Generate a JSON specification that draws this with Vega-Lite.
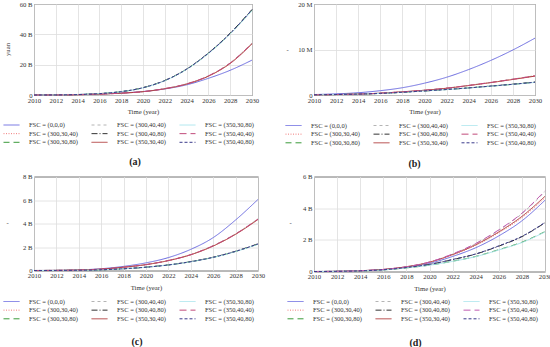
{
"$schema":"https://vega.github.io/schema/vega-lite/v6.json",
"padding":{"left":2,"top":0,"right":0,"bottom":0},
"config":{
 "font":"Liberation Serif",
 "view":{"stroke":"#444444","strokeWidth":1},
 "axis":{"labelFont":"Liberation Serif","labelFontSize":6.7,"labelColor":"#333333","titleFont":"Liberation Serif","titleFontSize":6.7,"titleFontWeight":"normal","titleColor":"#333333","gridColor":"#dddddd","gridWidth":0.8,"ticks":false,"domain":false,"labelFlush":false,"labelOverlap":false,"labelPadding":2},
 "axisX":{"titlePadding":5},
 "legend":{"orient":"none","columns":3,"symbolType":"stroke","symbolSize":256,"symbolStrokeWidth":1,"labelFont":"Liberation Serif","labelFontSize":6.5,"labelColor":"#333333","clipHeight":8,"rowPadding":0.65,"columnPadding":13,"labelOffset":9,"padding":0},
 "title":{"orient":"bottom","anchor":"middle","frame":"group","font":"Liberation Serif","fontSize":10,"fontWeight":"bold","color":"#222222","offset":10}
},
"resolve":{"scale":{"color":"independent","strokeDash":"independent"},"legend":{"color":"independent","strokeDash":"independent"}},
"datasets":{
"a":[
{"s":"0,0,0","t":2010,"v":0},{"s":"0,0,0","t":2012,"v":0.1},{"s":"0,0,0","t":2014,"v":0.3},{"s":"0,0,0","t":2016,"v":0.7},{"s":"0,0,0","t":2018,"v":1.3},{"s":"0,0,0","t":2020,"v":2.3},{"s":"0,0,0","t":2022,"v":4.0},{"s":"0,0,0","t":2024,"v":6.7},{"s":"0,0,0","t":2026,"v":11},{"s":"0,0,0","t":2028,"v":16.3},{"s":"0,0,0","t":2030,"v":23},
{"s":"300,30,40","t":2010,"v":0},{"s":"300,30,40","t":2012,"v":0.05},{"s":"300,30,40","t":2014,"v":0.2},{"s":"300,30,40","t":2016,"v":0.6},{"s":"300,30,40","t":2018,"v":1.2},{"s":"300,30,40","t":2020,"v":2.2},{"s":"300,30,40","t":2022,"v":4.2},{"s":"300,30,40","t":2024,"v":7.3},{"s":"300,30,40","t":2026,"v":12.5},{"s":"300,30,40","t":2028,"v":21},{"s":"300,30,40","t":2030,"v":34},
{"s":"300,30,80","t":2010,"v":0},{"s":"300,30,80","t":2012,"v":0.05},{"s":"300,30,80","t":2014,"v":0.3},{"s":"300,30,80","t":2016,"v":0.9},{"s":"300,30,80","t":2018,"v":2.2},{"s":"300,30,80","t":2020,"v":4.8},{"s":"300,30,80","t":2022,"v":9.5},{"s":"300,30,80","t":2024,"v":17},{"s":"300,30,80","t":2026,"v":27.5},{"s":"300,30,80","t":2028,"v":40.5},{"s":"300,30,80","t":2030,"v":56},
{"s":"300,40,40","t":2010,"v":0},{"s":"300,40,40","t":2012,"v":0.05},{"s":"300,40,40","t":2014,"v":0.2},{"s":"300,40,40","t":2016,"v":0.6},{"s":"300,40,40","t":2018,"v":1.2},{"s":"300,40,40","t":2020,"v":2.2},{"s":"300,40,40","t":2022,"v":4.2},{"s":"300,40,40","t":2024,"v":7.4},{"s":"300,40,40","t":2026,"v":12.6},{"s":"300,40,40","t":2028,"v":21.2},{"s":"300,40,40","t":2030,"v":34.3},
{"s":"300,40,80","t":2010,"v":0},{"s":"300,40,80","t":2012,"v":0.05},{"s":"300,40,80","t":2014,"v":0.3},{"s":"300,40,80","t":2016,"v":0.9},{"s":"300,40,80","t":2018,"v":2.2},{"s":"300,40,80","t":2020,"v":4.8},{"s":"300,40,80","t":2022,"v":9.6},{"s":"300,40,80","t":2024,"v":17.1},{"s":"300,40,80","t":2026,"v":27.7},{"s":"300,40,80","t":2028,"v":40.8},{"s":"300,40,80","t":2030,"v":56.4},
{"s":"350,30,40","t":2010,"v":0},{"s":"350,30,40","t":2012,"v":0.05},{"s":"350,30,40","t":2014,"v":0.2},{"s":"350,30,40","t":2016,"v":0.6},{"s":"350,30,40","t":2018,"v":1.2},{"s":"350,30,40","t":2020,"v":2.2},{"s":"350,30,40","t":2022,"v":4.1},{"s":"350,30,40","t":2024,"v":7.2},{"s":"350,30,40","t":2026,"v":12.4},{"s":"350,30,40","t":2028,"v":20.8},{"s":"350,30,40","t":2030,"v":33.7},
{"s":"350,30,80","t":2010,"v":0},{"s":"350,30,80","t":2012,"v":0.05},{"s":"350,30,80","t":2014,"v":0.3},{"s":"350,30,80","t":2016,"v":0.9},{"s":"350,30,80","t":2018,"v":2.2},{"s":"350,30,80","t":2020,"v":4.7},{"s":"350,30,80","t":2022,"v":9.4},{"s":"350,30,80","t":2024,"v":16.9},{"s":"350,30,80","t":2026,"v":27.3},{"s":"350,30,80","t":2028,"v":40.2},{"s":"350,30,80","t":2030,"v":55.6},
{"s":"350,40,40","t":2010,"v":0},{"s":"350,40,40","t":2012,"v":0.05},{"s":"350,40,40","t":2014,"v":0.2},{"s":"350,40,40","t":2016,"v":0.6},{"s":"350,40,40","t":2018,"v":1.2},{"s":"350,40,40","t":2020,"v":2.2},{"s":"350,40,40","t":2022,"v":4.2},{"s":"350,40,40","t":2024,"v":7.3},{"s":"350,40,40","t":2026,"v":12.6},{"s":"350,40,40","t":2028,"v":21.1},{"s":"350,40,40","t":2030,"v":34.1},
{"s":"350,40,80","t":2010,"v":0},{"s":"350,40,80","t":2012,"v":0.05},{"s":"350,40,80","t":2014,"v":0.3},{"s":"350,40,80","t":2016,"v":0.9},{"s":"350,40,80","t":2018,"v":2.2},{"s":"350,40,80","t":2020,"v":4.8},{"s":"350,40,80","t":2022,"v":9.5},{"s":"350,40,80","t":2024,"v":17},{"s":"350,40,80","t":2026,"v":27.6},{"s":"350,40,80","t":2028,"v":40.6},{"s":"350,40,80","t":2030,"v":56.2}
],
"b":[
{"s":"0,0,0","t":2010,"v":0.1},{"s":"0,0,0","t":2012,"v":0.25},{"s":"0,0,0","t":2014,"v":0.5},{"s":"0,0,0","t":2016,"v":0.95},{"s":"0,0,0","t":2018,"v":1.6},{"s":"0,0,0","t":2020,"v":2.6},{"s":"0,0,0","t":2022,"v":3.9},{"s":"0,0,0","t":2024,"v":5.6},{"s":"0,0,0","t":2026,"v":7.6},{"s":"0,0,0","t":2028,"v":9.9},{"s":"0,0,0","t":2030,"v":12.5},
{"s":"300,30,40","t":2010,"v":0.05},{"s":"300,30,40","t":2012,"v":0.1},{"s":"300,30,40","t":2014,"v":0.2},{"s":"300,30,40","t":2016,"v":0.4},{"s":"300,30,40","t":2018,"v":0.7},{"s":"300,30,40","t":2020,"v":1.05},{"s":"300,30,40","t":2022,"v":1.5},{"s":"300,30,40","t":2024,"v":2.1},{"s":"300,30,40","t":2026,"v":2.75},{"s":"300,30,40","t":2028,"v":3.45},{"s":"300,30,40","t":2030,"v":4.2},
{"s":"300,30,80","t":2010,"v":0.05},{"s":"300,30,80","t":2012,"v":0.1},{"s":"300,30,80","t":2014,"v":0.2},{"s":"300,30,80","t":2016,"v":0.35},{"s":"300,30,80","t":2018,"v":0.6},{"s":"300,30,80","t":2020,"v":0.9},{"s":"300,30,80","t":2022,"v":1.2},{"s":"300,30,80","t":2024,"v":1.55},{"s":"300,30,80","t":2026,"v":1.95},{"s":"300,30,80","t":2028,"v":2.35},{"s":"300,30,80","t":2030,"v":2.8},
{"s":"300,40,40","t":2010,"v":0.05},{"s":"300,40,40","t":2012,"v":0.1},{"s":"300,40,40","t":2014,"v":0.2},{"s":"300,40,40","t":2016,"v":0.4},{"s":"300,40,40","t":2018,"v":0.7},{"s":"300,40,40","t":2020,"v":1.05},{"s":"300,40,40","t":2022,"v":1.52},{"s":"300,40,40","t":2024,"v":2.12},{"s":"300,40,40","t":2026,"v":2.78},{"s":"300,40,40","t":2028,"v":3.5},{"s":"300,40,40","t":2030,"v":4.25},
{"s":"300,40,80","t":2010,"v":0.05},{"s":"300,40,80","t":2012,"v":0.1},{"s":"300,40,80","t":2014,"v":0.2},{"s":"300,40,80","t":2016,"v":0.35},{"s":"300,40,80","t":2018,"v":0.6},{"s":"300,40,80","t":2020,"v":0.9},{"s":"300,40,80","t":2022,"v":1.22},{"s":"300,40,80","t":2024,"v":1.57},{"s":"300,40,80","t":2026,"v":1.97},{"s":"300,40,80","t":2028,"v":2.38},{"s":"300,40,80","t":2030,"v":2.83},
{"s":"350,30,40","t":2010,"v":0.05},{"s":"350,30,40","t":2012,"v":0.1},{"s":"350,30,40","t":2014,"v":0.2},{"s":"350,30,40","t":2016,"v":0.4},{"s":"350,30,40","t":2018,"v":0.7},{"s":"350,30,40","t":2020,"v":1.04},{"s":"350,30,40","t":2022,"v":1.48},{"s":"350,30,40","t":2024,"v":2.08},{"s":"350,30,40","t":2026,"v":2.72},{"s":"350,30,40","t":2028,"v":3.42},{"s":"350,30,40","t":2030,"v":4.15},
{"s":"350,30,80","t":2010,"v":0.05},{"s":"350,30,80","t":2012,"v":0.1},{"s":"350,30,80","t":2014,"v":0.2},{"s":"350,30,80","t":2016,"v":0.35},{"s":"350,30,80","t":2018,"v":0.6},{"s":"350,30,80","t":2020,"v":0.89},{"s":"350,30,80","t":2022,"v":1.19},{"s":"350,30,80","t":2024,"v":1.54},{"s":"350,30,80","t":2026,"v":1.93},{"s":"350,30,80","t":2028,"v":2.33},{"s":"350,30,80","t":2030,"v":2.77},
{"s":"350,40,40","t":2010,"v":0.05},{"s":"350,40,40","t":2012,"v":0.1},{"s":"350,40,40","t":2014,"v":0.2},{"s":"350,40,40","t":2016,"v":0.4},{"s":"350,40,40","t":2018,"v":0.7},{"s":"350,40,40","t":2020,"v":1.05},{"s":"350,40,40","t":2022,"v":1.5},{"s":"350,40,40","t":2024,"v":2.1},{"s":"350,40,40","t":2026,"v":2.76},{"s":"350,40,40","t":2028,"v":3.47},{"s":"350,40,40","t":2030,"v":4.22},
{"s":"350,40,80","t":2010,"v":0.05},{"s":"350,40,80","t":2012,"v":0.1},{"s":"350,40,80","t":2014,"v":0.2},{"s":"350,40,80","t":2016,"v":0.35},{"s":"350,40,80","t":2018,"v":0.6},{"s":"350,40,80","t":2020,"v":0.9},{"s":"350,40,80","t":2022,"v":1.21},{"s":"350,40,80","t":2024,"v":1.56},{"s":"350,40,80","t":2026,"v":1.96},{"s":"350,40,80","t":2028,"v":2.36},{"s":"350,40,80","t":2030,"v":2.81}
],
"c":[
{"s":"0,0,0","t":2010,"v":0},{"s":"0,0,0","t":2012,"v":0.01},{"s":"0,0,0","t":2014,"v":0.05},{"s":"0,0,0","t":2016,"v":0.15},{"s":"0,0,0","t":2018,"v":0.35},{"s":"0,0,0","t":2020,"v":0.65},{"s":"0,0,0","t":2022,"v":1.1},{"s":"0,0,0","t":2024,"v":1.8},{"s":"0,0,0","t":2026,"v":2.8},{"s":"0,0,0","t":2028,"v":4.3},{"s":"0,0,0","t":2030,"v":6.05},
{"s":"300,30,40","t":2010,"v":0},{"s":"300,30,40","t":2012,"v":0.01},{"s":"300,30,40","t":2014,"v":0.04},{"s":"300,30,40","t":2016,"v":0.12},{"s":"300,30,40","t":2018,"v":0.28},{"s":"300,30,40","t":2020,"v":0.5},{"s":"300,30,40","t":2022,"v":0.85},{"s":"300,30,40","t":2024,"v":1.35},{"s":"300,30,40","t":2026,"v":2.1},{"s":"300,30,40","t":2028,"v":3.1},{"s":"300,30,40","t":2030,"v":4.37},
{"s":"300,30,80","t":2010,"v":0},{"s":"300,30,80","t":2012,"v":0.005},{"s":"300,30,80","t":2014,"v":0.02},{"s":"300,30,80","t":2016,"v":0.06},{"s":"300,30,80","t":2018,"v":0.15},{"s":"300,30,80","t":2020,"v":0.28},{"s":"300,30,80","t":2022,"v":0.47},{"s":"300,30,80","t":2024,"v":0.75},{"s":"300,30,80","t":2026,"v":1.12},{"s":"300,30,80","t":2028,"v":1.62},{"s":"300,30,80","t":2030,"v":2.25},
{"s":"300,40,40","t":2010,"v":0},{"s":"300,40,40","t":2012,"v":0.01},{"s":"300,40,40","t":2014,"v":0.04},{"s":"300,40,40","t":2016,"v":0.12},{"s":"300,40,40","t":2018,"v":0.28},{"s":"300,40,40","t":2020,"v":0.5},{"s":"300,40,40","t":2022,"v":0.86},{"s":"300,40,40","t":2024,"v":1.36},{"s":"300,40,40","t":2026,"v":2.12},{"s":"300,40,40","t":2028,"v":3.12},{"s":"300,40,40","t":2030,"v":4.4},
{"s":"300,40,80","t":2010,"v":0},{"s":"300,40,80","t":2012,"v":0.005},{"s":"300,40,80","t":2014,"v":0.02},{"s":"300,40,80","t":2016,"v":0.06},{"s":"300,40,80","t":2018,"v":0.15},{"s":"300,40,80","t":2020,"v":0.28},{"s":"300,40,80","t":2022,"v":0.48},{"s":"300,40,80","t":2024,"v":0.76},{"s":"300,40,80","t":2026,"v":1.13},{"s":"300,40,80","t":2028,"v":1.64},{"s":"300,40,80","t":2030,"v":2.27},
{"s":"350,30,40","t":2010,"v":0},{"s":"350,30,40","t":2012,"v":0.01},{"s":"350,30,40","t":2014,"v":0.04},{"s":"350,30,40","t":2016,"v":0.12},{"s":"350,30,40","t":2018,"v":0.28},{"s":"350,30,40","t":2020,"v":0.5},{"s":"350,30,40","t":2022,"v":0.84},{"s":"350,30,40","t":2024,"v":1.34},{"s":"350,30,40","t":2026,"v":2.08},{"s":"350,30,40","t":2028,"v":3.08},{"s":"350,30,40","t":2030,"v":4.34},
{"s":"350,30,80","t":2010,"v":0},{"s":"350,30,80","t":2012,"v":0.005},{"s":"350,30,80","t":2014,"v":0.02},{"s":"350,30,80","t":2016,"v":0.06},{"s":"350,30,80","t":2018,"v":0.15},{"s":"350,30,80","t":2020,"v":0.28},{"s":"350,30,80","t":2022,"v":0.47},{"s":"350,30,80","t":2024,"v":0.74},{"s":"350,30,80","t":2026,"v":1.11},{"s":"350,30,80","t":2028,"v":1.61},{"s":"350,30,80","t":2030,"v":2.23},
{"s":"350,40,40","t":2010,"v":0},{"s":"350,40,40","t":2012,"v":0.01},{"s":"350,40,40","t":2014,"v":0.04},{"s":"350,40,40","t":2016,"v":0.12},{"s":"350,40,40","t":2018,"v":0.28},{"s":"350,40,40","t":2020,"v":0.5},{"s":"350,40,40","t":2022,"v":0.85},{"s":"350,40,40","t":2024,"v":1.35},{"s":"350,40,40","t":2026,"v":2.11},{"s":"350,40,40","t":2028,"v":3.11},{"s":"350,40,40","t":2030,"v":4.38},
{"s":"350,40,80","t":2010,"v":0},{"s":"350,40,80","t":2012,"v":0.005},{"s":"350,40,80","t":2014,"v":0.02},{"s":"350,40,80","t":2016,"v":0.06},{"s":"350,40,80","t":2018,"v":0.15},{"s":"350,40,80","t":2020,"v":0.28},{"s":"350,40,80","t":2022,"v":0.47},{"s":"350,40,80","t":2024,"v":0.75},{"s":"350,40,80","t":2026,"v":1.12},{"s":"350,40,80","t":2028,"v":1.63},{"s":"350,40,80","t":2030,"v":2.26}
],
"d":[
{"s":"0,0,0","t":2010,"v":0},{"s":"0,0,0","t":2012,"v":0.01},{"s":"0,0,0","t":2014,"v":0.05},{"s":"0,0,0","t":2016,"v":0.12},{"s":"0,0,0","t":2018,"v":0.28},{"s":"0,0,0","t":2020,"v":0.52},{"s":"0,0,0","t":2022,"v":0.95},{"s":"0,0,0","t":2024,"v":1.5},{"s":"0,0,0","t":2026,"v":2.25},{"s":"0,0,0","t":2028,"v":3.2},{"s":"0,0,0","t":2030,"v":4.5},
{"s":"300,30,40","t":2010,"v":0},{"s":"300,30,40","t":2012,"v":0.01},{"s":"300,30,40","t":2014,"v":0.05},{"s":"300,30,40","t":2016,"v":0.13},{"s":"300,30,40","t":2018,"v":0.3},{"s":"300,30,40","t":2020,"v":0.58},{"s":"300,30,40","t":2022,"v":1.05},{"s":"300,30,40","t":2024,"v":1.65},{"s":"300,30,40","t":2026,"v":2.45},{"s":"300,30,40","t":2028,"v":3.4},{"s":"300,30,40","t":2030,"v":4.65},
{"s":"300,30,80","t":2010,"v":0},{"s":"300,30,80","t":2012,"v":0.01},{"s":"300,30,80","t":2014,"v":0.04},{"s":"300,30,80","t":2016,"v":0.1},{"s":"300,30,80","t":2018,"v":0.23},{"s":"300,30,80","t":2020,"v":0.4},{"s":"300,30,80","t":2022,"v":0.65},{"s":"300,30,80","t":2024,"v":0.95},{"s":"300,30,80","t":2026,"v":1.38},{"s":"300,30,80","t":2028,"v":1.85},{"s":"300,30,80","t":2030,"v":2.52},
{"s":"300,40,40","t":2010,"v":0},{"s":"300,40,40","t":2012,"v":0.01},{"s":"300,40,40","t":2014,"v":0.05},{"s":"300,40,40","t":2016,"v":0.13},{"s":"300,40,40","t":2018,"v":0.3},{"s":"300,40,40","t":2020,"v":0.6},{"s":"300,40,40","t":2022,"v":1.1},{"s":"300,40,40","t":2024,"v":1.75},{"s":"300,40,40","t":2026,"v":2.6},{"s":"300,40,40","t":2028,"v":3.65},{"s":"300,40,40","t":2030,"v":5.05},
{"s":"300,40,80","t":2010,"v":0},{"s":"300,40,80","t":2012,"v":0.01},{"s":"300,40,80","t":2014,"v":0.04},{"s":"300,40,80","t":2016,"v":0.11},{"s":"300,40,80","t":2018,"v":0.25},{"s":"300,40,80","t":2020,"v":0.45},{"s":"300,40,80","t":2022,"v":0.75},{"s":"300,40,80","t":2024,"v":1.1},{"s":"300,40,80","t":2026,"v":1.6},{"s":"300,40,80","t":2028,"v":2.2},{"s":"300,40,80","t":2030,"v":3.08},
{"s":"350,30,40","t":2010,"v":0},{"s":"350,30,40","t":2012,"v":0.01},{"s":"350,30,40","t":2014,"v":0.05},{"s":"350,30,40","t":2016,"v":0.13},{"s":"350,30,40","t":2018,"v":0.3},{"s":"350,30,40","t":2020,"v":0.59},{"s":"350,30,40","t":2022,"v":1.07},{"s":"350,30,40","t":2024,"v":1.69},{"s":"350,30,40","t":2026,"v":2.5},{"s":"350,30,40","t":2028,"v":3.48},{"s":"350,30,40","t":2030,"v":4.75},
{"s":"350,30,80","t":2010,"v":0},{"s":"350,30,80","t":2012,"v":0.01},{"s":"350,30,80","t":2014,"v":0.04},{"s":"350,30,80","t":2016,"v":0.1},{"s":"350,30,80","t":2018,"v":0.23},{"s":"350,30,80","t":2020,"v":0.4},{"s":"350,30,80","t":2022,"v":0.64},{"s":"350,30,80","t":2024,"v":0.94},{"s":"350,30,80","t":2026,"v":1.36},{"s":"350,30,80","t":2028,"v":1.83},{"s":"350,30,80","t":2030,"v":2.5},
{"s":"350,40,40","t":2010,"v":0},{"s":"350,40,40","t":2012,"v":0.01},{"s":"350,40,40","t":2014,"v":0.05},{"s":"350,40,40","t":2016,"v":0.13},{"s":"350,40,40","t":2018,"v":0.3},{"s":"350,40,40","t":2020,"v":0.6},{"s":"350,40,40","t":2022,"v":1.11},{"s":"350,40,40","t":2024,"v":1.77},{"s":"350,40,40","t":2026,"v":2.63},{"s":"350,40,40","t":2028,"v":3.68},{"s":"350,40,40","t":2030,"v":5.1},
{"s":"350,40,80","t":2010,"v":0},{"s":"350,40,80","t":2012,"v":0.01},{"s":"350,40,80","t":2014,"v":0.04},{"s":"350,40,80","t":2016,"v":0.11},{"s":"350,40,80","t":2018,"v":0.25},{"s":"350,40,80","t":2020,"v":0.45},{"s":"350,40,80","t":2022,"v":0.76},{"s":"350,40,80","t":2024,"v":1.11},{"s":"350,40,80","t":2026,"v":1.62},{"s":"350,40,80","t":2028,"v":2.22},{"s":"350,40,80","t":2030,"v":3.1}
]
},
"columns":2,
"align":"each",
"bounds":"flush",
"spacing":{"row":81.5,"column":56},
"concat":[
{"width":218,"height":91,"data":{"name":"a"},"title":{"text":"(a)","dx":-8,"offset":10},
 "mark":{"type":"line","strokeWidth":1,"interpolate":"monotone"},
 "encoding":{
  "x":{"field":"t","type":"quantitative","scale":{"domain":[2010,2030],"nice":false},"axis":{"values":[2010,2012,2014,2016,2018,2020,2022,2024,2026,2028,2030],"format":"d","title":"Time (year)"}},
  "y":{"field":"v","type":"quantitative","scale":{"domain":[0,60],"nice":false},"axis":{"values":[0,20,40,60],"labelExpr":"datum.value == 0 ? '0' : datum.value + ' B'","title":"yuan","titleAngle":270,"titleX":-27,"titleY":45,"titleAlign":"center","titleBaseline":"middle"}},
  "color":{"field":"s","type":"nominal","scale":{"domain":["0,0,0","300,30,40","300,30,80","300,40,40","300,40,80","350,30,40","350,30,80","350,40,40","350,40,80"],"range":["#6b6be0","#f07a7a","#3a9a3a","#b4b4b4","#333333","#b03a3a","#a8e4ec","#c04a7a","#3a3a8a"]},"legend":{"title":null,"legendX":-31,"legendY":117,"labelExpr":"'FSC = (' + datum.label + ')'"}},
  "strokeDash":{"field":"s","type":"nominal","scale":{"domain":["0,0,0","300,30,40","300,30,80","300,40,40","300,40,80","350,30,40","350,30,80","350,40,40","350,40,80"],"range":[[1,0],[1,1.5],[6,4],[3,3],[6,2,1,2],[1,0],[1,0],[7,4],[3,2]]},"legend":{"title":null,"legendX":-31,"legendY":117,"labelExpr":"'FSC = (' + datum.label + ')'"}}
 }},
{"width":221,"height":91,"data":{"name":"b"},"title":{"text":"(b)","dx":-10,"offset":11},
 "mark":{"type":"line","strokeWidth":1,"interpolate":"monotone"},
 "encoding":{
  "x":{"field":"t","type":"quantitative","scale":{"domain":[2010,2030],"nice":false},"axis":{"values":[2010,2012,2014,2016,2018,2020,2022,2024,2026,2028,2030],"format":"d","title":"Time (year)"}},
  "y":{"field":"v","type":"quantitative","scale":{"domain":[0,20],"nice":false},"axis":{"values":[0,10,20],"labelExpr":"datum.value == 0 ? '0' : datum.value + ' M'","title":"-","titleAngle":0,"titleX":-27,"titleY":45,"titleAlign":"center","titleBaseline":"middle"}},
  "color":{"field":"s","type":"nominal","scale":{"domain":["0,0,0","300,30,40","300,30,80","300,40,40","300,40,80","350,30,40","350,30,80","350,40,40","350,40,80"],"range":["#6b6be0","#f07a7a","#3a9a3a","#b4b4b4","#333333","#b03a3a","#a8e4ec","#c04a7a","#3a3a8a"]},"legend":{"title":null,"legendX":-29,"legendY":117.5,"labelExpr":"'FSC = (' + datum.label + ')'"}},
  "strokeDash":{"field":"s","type":"nominal","scale":{"domain":["0,0,0","300,30,40","300,30,80","300,40,40","300,40,80","350,30,40","350,30,80","350,40,40","350,40,80"],"range":[[1,0],[1,1.5],[6,4],[3,3],[6,2,1,2],[1,0],[1,0],[7,4],[3,2]]},"legend":{"title":null,"legendX":-29,"legendY":117.5,"labelExpr":"'FSC = (' + datum.label + ')'"}}
 }},
{"width":224,"height":94,"data":{"name":"c"},"title":{"text":"(c)","dx":-9,"offset":13.5},
 "mark":{"type":"line","strokeWidth":1,"interpolate":"monotone"},
 "encoding":{
  "x":{"field":"t","type":"quantitative","scale":{"domain":[2010,2030],"nice":false},"axis":{"values":[2010,2012,2014,2016,2018,2020,2022,2024,2026,2028,2030],"format":"d","title":"Time (year)"}},
  "y":{"field":"v","type":"quantitative","scale":{"domain":[0,8],"nice":false},"axis":{"values":[0,2,4,6,8],"labelExpr":"datum.value == 0 ? '0' : datum.value + ' B'","title":"-","titleAngle":0,"titleX":-27,"titleY":46,"titleAlign":"center","titleBaseline":"middle"}},
  "color":{"field":"s","type":"nominal","scale":{"domain":["0,0,0","300,30,40","300,30,80","300,40,40","300,40,80","350,30,40","350,30,80","350,40,40","350,40,80"],"range":["#6b6be0","#f07a7a","#3a9a3a","#b4b4b4","#333333","#b03a3a","#a8e4ec","#c04a7a","#3a3a8a"]},"legend":{"title":null,"legendX":-31,"legendY":121,"labelExpr":"'FSC = (' + datum.label + ')'"}},
  "strokeDash":{"field":"s","type":"nominal","scale":{"domain":["0,0,0","300,30,40","300,30,80","300,40,40","300,40,80","350,30,40","350,30,80","350,40,40","350,40,80"],"range":[[1,0],[1,1.5],[6,4],[3,3],[6,2,1,2],[1,0],[1,0],[7,4],[3,2]]},"legend":{"title":null,"legendX":-31,"legendY":121,"labelExpr":"'FSC = (' + datum.label + ')'"}}
 }},
{"width":231,"height":95,"data":{"name":"d"},"title":{"text":"(d)","dx":-14,"offset":14.5},
 "mark":{"type":"line","strokeWidth":1,"interpolate":"monotone"},
 "encoding":{
  "x":{"field":"t","type":"quantitative","scale":{"domain":[2010,2030],"nice":false},"axis":{"values":[2010,2012,2014,2016,2018,2020,2022,2024,2026,2028,2030],"format":"d","title":"Time (year)"}},
  "y":{"field":"v","type":"quantitative","scale":{"domain":[0,6],"nice":false},"axis":{"values":[0,2,4,6],"labelExpr":"datum.value == 0 ? '0' : datum.value + ' B'","title":"-","titleAngle":0,"titleX":-24,"titleY":46,"titleAlign":"center","titleBaseline":"middle"}},
  "color":{"field":"s","type":"nominal","scale":{"domain":["0,0,0","300,30,40","300,30,80","300,40,40","300,40,80","350,30,40","350,30,80","350,40,40","350,40,80"],"range":["#6b6be0","#f07a7a","#3a9a3a","#b4b4b4","#333333","#b03a3a","#a8e4ec","#c05ab0","#3a3a8a"]},"legend":{"title":null,"legendX":-27,"legendY":121,"labelExpr":"'FSC = (' + datum.label + ')'"}},
  "strokeDash":{"field":"s","type":"nominal","scale":{"domain":["0,0,0","300,30,40","300,30,80","300,40,40","300,40,80","350,30,40","350,30,80","350,40,40","350,40,80"],"range":[[1,0],[1,1.5],[6,4],[3,3],[6,2,1,2],[1,0],[1,0],[7,4],[3,2]]},"legend":{"title":null,"legendX":-27,"legendY":121,"labelExpr":"'FSC = (' + datum.label + ')'"}}
 }}
]
}
